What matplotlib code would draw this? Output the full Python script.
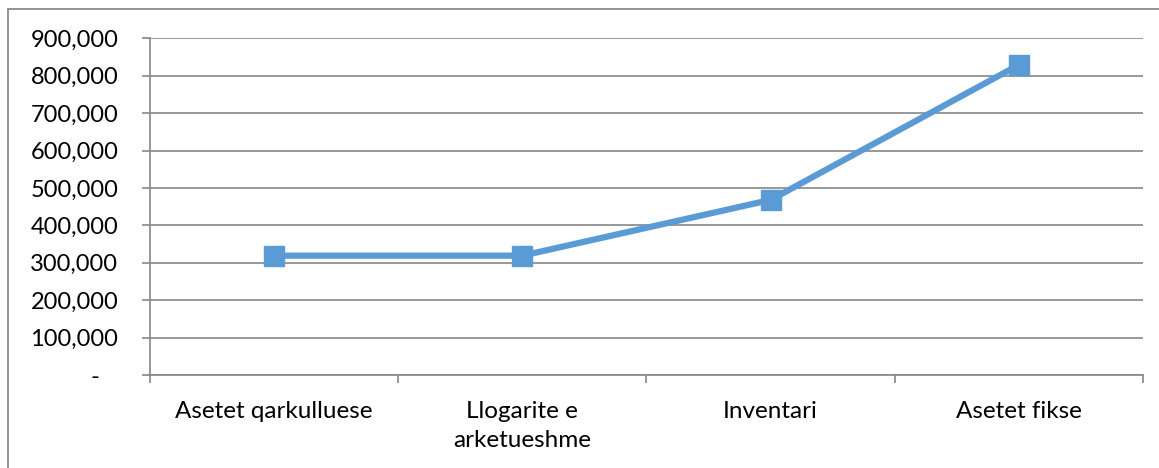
import matplotlib.pyplot as plt
from matplotlib.patches import Rectangle
from matplotlib.ticker import FuncFormatter, FixedLocator

categories = ["Asetet qarkulluese", "Llogarite e\narketueshme", "Inventari", "Asetet fikse"]
values = [319000, 319000, 468000, 829000]

plt.rcParams["font.family"] = ["Lato", "DejaVu Sans"]

fig = plt.figure(figsize=(11.59, 4.68), dpi=100)
ax = fig.add_axes([0.1294, 0.1987, 0.8568, 0.7195])

grid_col = "#868686"
line_col = "#5B9BD5"

x = list(range(len(categories)))
ax.plot(x, values, color=line_col, linewidth=4.5, marker="s", markersize=14,
        markerfacecolor=line_col, markeredgecolor=line_col, solid_capstyle="butt", zorder=3)

ax.set_xlim(-0.5, len(categories) - 0.5)
ax.set_ylim(0, 900000)
ax.set_yticks(range(0, 900001, 100000))
# zero shown as a dash, accounting style
ax.yaxis.set_major_formatter(FuncFormatter(lambda v, p: "-   " if v == 0 else f"{int(v):,}"))
ax.grid(axis="y", color=grid_col, linewidth=1.2)
ax.set_axisbelow(True)

ax.set_xticks(x)
ax.set_xticklabels(categories, fontsize=17.5, color="black", linespacing=1.45)
ax.xaxis.set_minor_locator(FixedLocator([i - 0.5 for i in range(len(categories) + 1)]))
ax.tick_params(axis="x", which="major", length=0, pad=19)
ax.tick_params(axis="x", which="minor", length=5.8, width=1.2, color=grid_col, direction="out")
ax.tick_params(axis="y", length=5.8, width=1.2, color=grid_col, labelsize=17, labelcolor="black", pad=17)

for side in ["top", "right"]:
    ax.spines[side].set_visible(False)
ax.spines["left"].set_color(grid_col)
ax.spines["left"].set_linewidth(1.2)
ax.spines["bottom"].set_color(grid_col)
ax.spines["bottom"].set_linewidth(1.2)

# outer chart frame
fig.patches.append(Rectangle((8 / 1159, -0.01), 1.02, 1 - 9 / 468 + 0.01, transform=fig.transFigure,
                             fill=False, edgecolor="#8a8a8a", linewidth=1.3))

fig.savefig("out.png", dpi=100)
